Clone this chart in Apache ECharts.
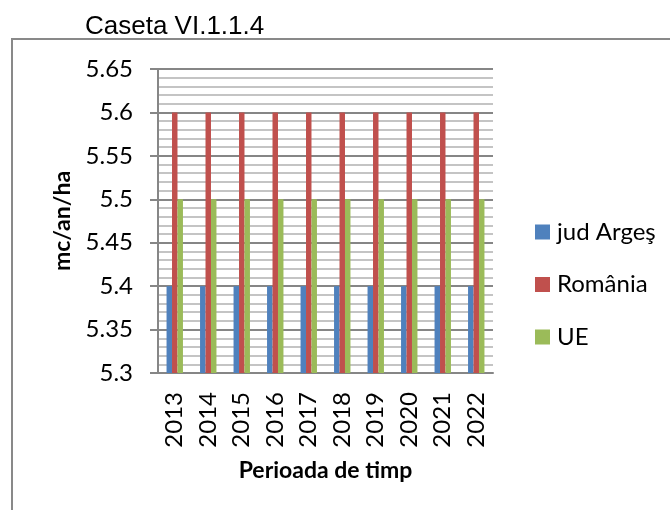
<!DOCTYPE html>
<html>
<head>
<meta charset="utf-8">
<script src="https://cdn.jsdelivr.net/npm/echarts@6/dist/echarts.min.js"></script>
<style>
  html, body { margin: 0; padding: 0; background: #fff; }
  #chart { width: 670px; height: 510px; }
</style>
</head>
<body>
<div id="chart"></div>
<script>
// values
const years = ['2013', '2014', '2015', '2016', '2017', '2018', '2019', '2020', '2021', '2022'];
const judArges = [5.4, 5.4, 5.4, 5.4, 5.4, 5.4, 5.4, 5.4, 5.4, 5.4];
const romania = [5.6, 5.6, 5.6, 5.6, 5.6, 5.6, 5.6, 5.6, 5.6, 5.6];
const ue = [5.5, 5.5, 5.5, 5.5, 5.5, 5.5, 5.5, 5.5, 5.5, 5.5];
const seriesNames = ['jud Argeş', 'România', 'UE'];

const chart = echarts.init(document.getElementById('chart'), null, { renderer: 'canvas' });

const font = 'Lato, "Open Sans", sans-serif';

const barSeries = (name, data, color) => ({
    name: name,
    type: 'bar',
    data: data,
    barGap: '0%',
    barCategoryGap: '51%',
    itemStyle: { color: color },
    emphasis: { disabled: true }
});

chart.setOption({
    animation: false,
    title: {
        text: 'Caseta VI.1.1.4',
        left: 80,
        top: 9,
        textStyle: {
            fontFamily: '"Liberation Sans", Arial, sans-serif',
            fontSize: 26,
            fontWeight: 'normal',
            color: '#000'
        }
    },
    graphic: [{
        type: 'rect',
        shape: { x: 12, y: 39, width: 700, height: 520 },
        style: { fill: 'none', stroke: '#898989', lineWidth: 2 },
        silent: true
    }],
    grid: { left: 158, top: 69, right: 177, bottom: 137 },
    legend: {
        orient: 'vertical',
        left: 535,
        top: 220,
        padding: 0,
        itemWidth: 15,
        itemHeight: 15,
        itemGap: 28.5,
        icon: 'rect',
        data: seriesNames,
        textStyle: { fontFamily: font, fontSize: 24, lineHeight: 20, color: '#000', padding: [0, 0, 0, 2] }
    },
    xAxis: {
        type: 'category',
        data: years,
        name: 'Perioada de timp',
        nameLocation: 'middle',
        nameGap: 86,
        nameTextStyle: { fontFamily: font, fontSize: 23, fontWeight: 'bold', color: '#000' },
        axisLine: { lineStyle: { color: '#868686', width: 2 } },
        axisTick: { show: false },
        axisLabel: { rotate: 90, margin: 19, fontFamily: font, fontSize: 24, color: '#000' }
    },
    yAxis: {
        type: 'value',
        min: 5.3,
        max: 5.65,
        interval: 0.05,
        name: 'mc/an/ha',
        nameLocation: 'middle',
        nameGap: 84,
        nameTextStyle: { fontFamily: font, fontSize: 23, fontWeight: 'bold', color: '#000' },
        axisLine: { show: true, lineStyle: { color: '#868686', width: 2 } },
        axisTick: { show: true, length: 8, lineStyle: { color: '#868686', width: 2 } },
        axisLabel: {
            margin: 25,
            fontFamily: font,
            fontSize: 24,
            color: '#000',
            formatter: v => String(parseFloat(v.toFixed(2)))
        },
        splitLine: { show: true, lineStyle: { color: '#868686', width: 2 } },
        minorTick: { show: false, splitNumber: 5 },
        minorSplitLine: { show: true, lineStyle: { color: '#c4c4c4', width: 2 } }
    },
    series: [
        barSeries(seriesNames[0], judArges, '#4F81BD'),
        barSeries(seriesNames[1], romania, '#C0504D'),
        barSeries(seriesNames[2], ue, '#9BBB59')
    ]
});
</script>
</body>
</html>
